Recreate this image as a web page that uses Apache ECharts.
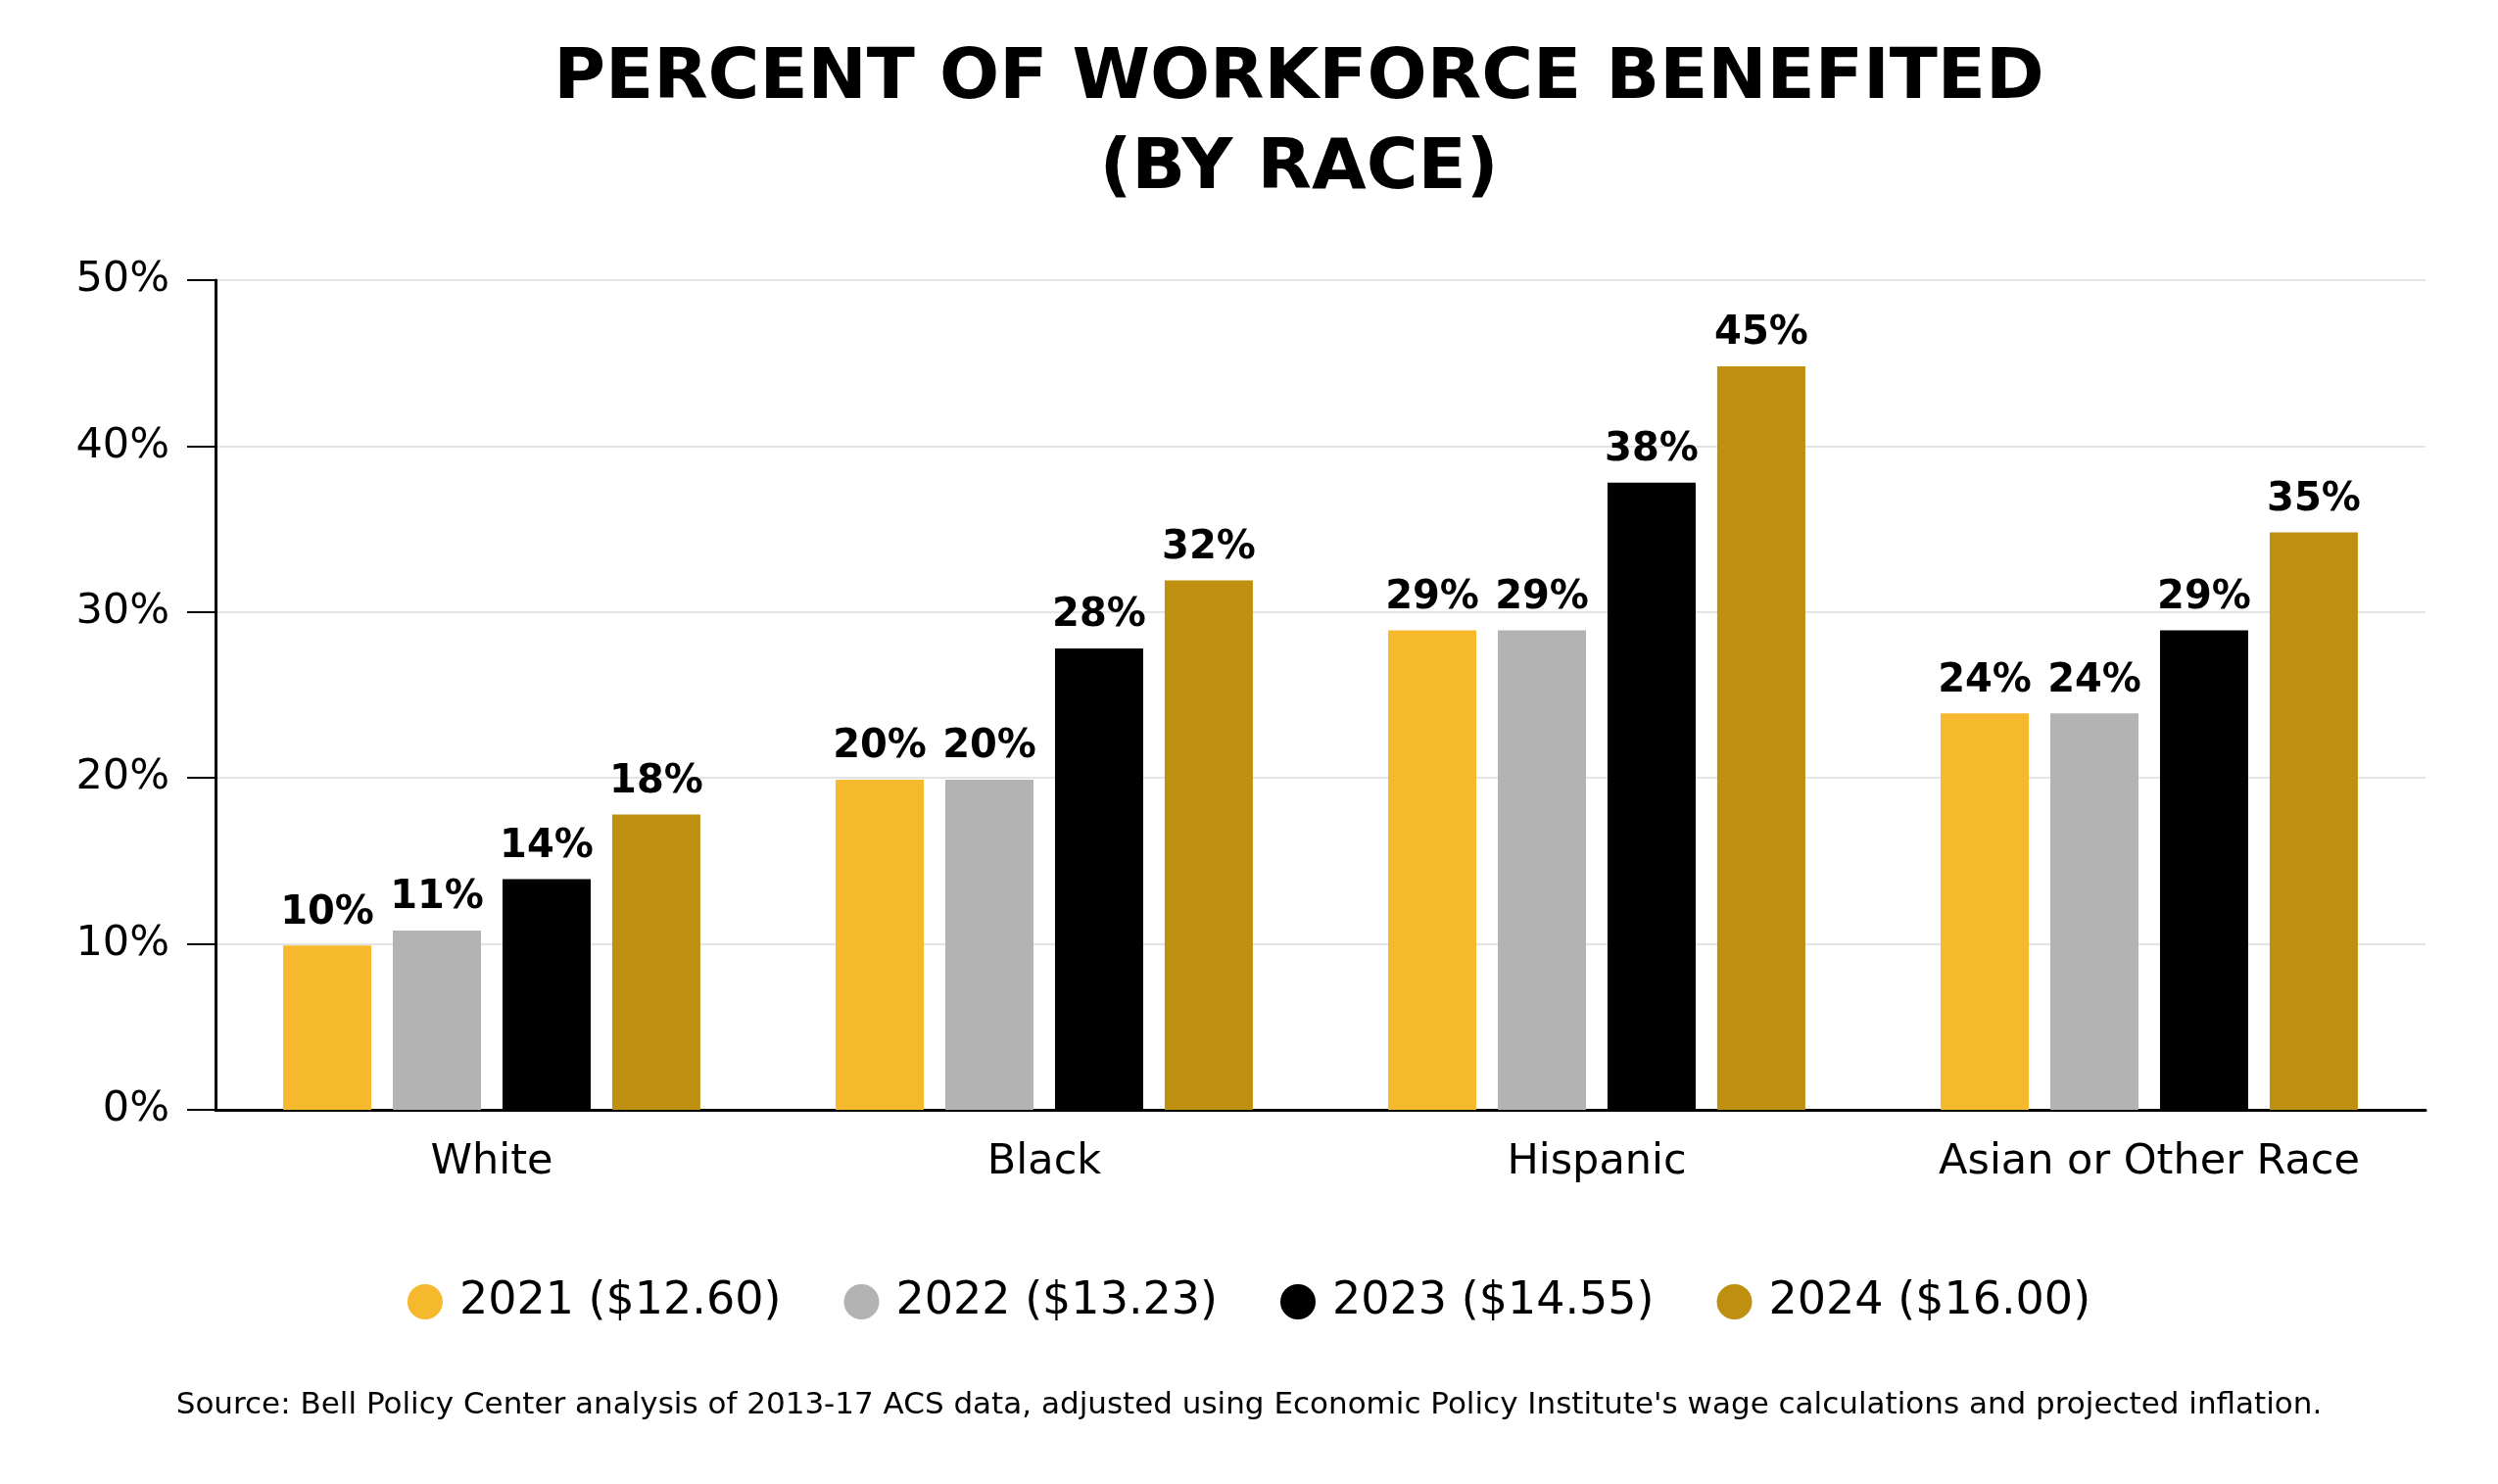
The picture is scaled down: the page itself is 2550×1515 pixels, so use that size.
<!DOCTYPE html>
<html><head><meta charset="utf-8">
<script src="https://cdn.jsdelivr.net/npm/echarts@6/dist/echarts.min.js"></script>
<style>html,body{margin:0;padding:0;background:#fff}#c{width:2550px;height:1515px}</style>
</head><body><div id="c"></div>
<script>
const categories = ['White', 'Black', 'Hispanic', 'Asian or Other Race'];
const seriesNames = ['2021 ($12.60)', '2022 ($13.23)', '2023 ($14.55)', '2024 ($16.00)'];
const v2021 = [9.9, 19.9, 28.9, 23.9];
const v2022 = [10.8, 19.9, 28.9, 23.9];
const v2023 = [13.9, 27.8, 37.8, 28.9];
const v2024 = [17.8, 31.9, 44.8, 34.8];
const colors = ['#F6B92E', '#B3B3B3', '#000000', '#BF8F10'];
const yTicks = [0, 10, 20, 30, 40, 50];

const FONT = 'DejaVu Sans';
const allVals = [v2021, v2022, v2023, v2024];
const chart = echarts.init(document.getElementById('c'), null, {renderer: 'canvas'});
chart.setOption({
  backgroundColor: '#fff',
  animation: false,
  legend: {
    data: seriesNames,
    bottom: 158, left: 'center',
    icon: 'circle', itemWidth: 36, itemHeight: 36, itemGap: 64,
    textStyle: {fontFamily: FONT, fontSize: 46, color: '#000', padding: [0, 0, 0, 12]}
  },
  graphic: [{
    type: 'text', x: 1326, y: 35,
    style: {text: 'PERCENT OF WORKFORCE BENEFITED\n(BY RACE)', textAlign: 'center',
      fontFamily: FONT, fontWeight: 'bold', fontSize: 72, lineHeight: 92, fill: '#000'}
  }, {
    type: 'text', left: 'center', top: 1419,
    style: {text: "Source: Bell Policy Center analysis of 2013-17 ACS data, adjusted using Economic Policy Institute's wage calculations and projected inflation.",
      fontFamily: FONT, fontSize: 31, fill: '#000'}
  }],
  grid: {left: 220, right: 74, top: 286, bottom: 382, containLabel: false},
  xAxis: {
    type: 'category', data: categories,
    axisLine: {lineStyle: {color: '#000', width: 3}},
    axisTick: {alignWithLabel: true, length: 28, lineStyle: {color: '#000', width: 2}},
    axisLabel: {fontFamily: FONT, fontSize: 43, color: '#000', margin: 32}
  },
  yAxis: {
    type: 'value', min: yTicks[0], max: yTicks[yTicks.length - 1], interval: 10,
    axisLine: {show: true, lineStyle: {color: '#000', width: 3}},
    axisTick: {show: true, length: 29, lineStyle: {color: '#000', width: 2}},
    axisLabel: {fontFamily: FONT, fontSize: 43, color: '#000', margin: 47, formatter: v => v + '%'},
    splitLine: {lineStyle: {color: '#e4e4e4', width: 2}}
  },
  series: seriesNames.map((n, i) => ({
    name: n, type: 'bar', data: allVals[i],
    barWidth: 90, barGap: '24.4%',
    itemStyle: {color: colors[i]},
    label: {show: true, position: 'top', distance: 13, fontFamily: FONT, fontWeight: 'bold', fontSize: 40, color: '#000',
      formatter: p => Math.round(p.value) + '%'}
  }))
});
</script></body></html>
